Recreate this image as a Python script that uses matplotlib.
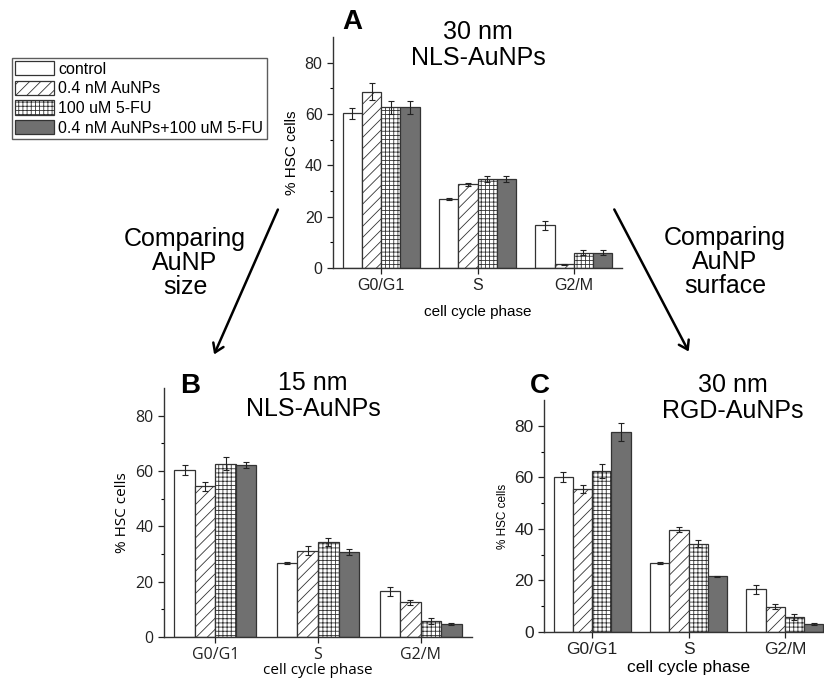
import numpy as np
import matplotlib
matplotlib.use('Agg')
import matplotlib.pyplot as plt
from matplotlib.patches import Patch

plt.rcParams['font.family'] = ['Liberation Sans', 'DejaVu Sans']
plt.rcParams['hatch.linewidth'] = 0.6

phases = ['G0/G1', 'S', 'G2/M']
groups = ['control', '0.4 nM AuNPs', '100 uM 5-FU', '0.4 nM AuNPs+100 uM 5-FU']

# panel A: 30 nm NLS-AuNPs
a_vals = [[60.2, 26.8, 16.6], [68.6, 32.6, 1.5], [62.6, 34.7, 6.0], [62.6, 34.6, 6.0]]
a_errs = [[2.0, 0.3, 1.8], [3.3, 0.6, 0.2], [2.6, 1.3, 0.9], [2.6, 1.2, 0.9]]
# panel B: 15 nm NLS-AuNPs
b_vals = [[60.2, 26.7, 16.6], [54.4, 31.2, 12.5], [62.6, 34.3, 5.7], [62.3, 30.7, 4.8]]
b_errs = [[1.8, 0.3, 1.6], [1.5, 1.6, 0.8], [2.4, 1.5, 1.0], [1.1, 1.2, 0.3]]
# panel C: 30 nm RGD-AuNPs
c_vals = [[60.1, 26.8, 16.5], [55.5, 39.7, 9.8], [62.6, 34.3, 5.9], [77.5, 21.7, 3.2]]
c_errs = [[1.9, 0.3, 1.9], [1.4, 0.9, 0.9], [2.7, 1.4, 1.2], [3.5, 0.2, 0.4]]

faces = ['white', 'white', 'white', '#707070']
hatches = [None, '///', '++++', None]
edge = '#333333'

W, H = 824, 679
fig = plt.figure(figsize=(W / 100, H / 100), dpi=100)


def px(x0, y0, x1, y1):
    # pixel box (left, top, right, bottom) -> figure fraction rect
    return [x0 / W, 1 - y1 / H, (x1 - x0) / W, (y1 - y0) / H]


def panel(rect, vals, errs, tick_fs, lab_fs, ylab_fs, fam, lpad):
    ax = fig.add_axes(rect)
    x = np.arange(len(phases))
    w = 0.2
    for i in range(4):
        ax.bar(x + (i - 1.5) * w, vals[i], w, yerr=errs[i], color=faces[i],
               hatch=hatches[i], edgecolor=edge, linewidth=0.9,
               error_kw=dict(ecolor='#222222', elinewidth=0.8, capsize=2.5, capthick=0.8))
    ax.set_xlim(-0.5, 2.5)
    ax.set_ylim(0, 90)
    ax.set_yticks([0, 20, 40, 60, 80])
    ax.set_yticks([10, 30, 50, 70], minor=True)
    ax.set_xticks(x)
    ax.set_xticklabels(phases, family=fam, fontsize=tick_fs)
    for t in ax.get_yticklabels():
        t.set_family(fam)
        t.set_fontsize(tick_fs)
    ax.tick_params(direction='out', length=4, width=0.9, colors='#222222')
    ax.tick_params(which='minor', length=2.5, width=0.8)
    ax.spines['top'].set_visible(False)
    ax.spines['right'].set_visible(False)
    for s in ['left', 'bottom']:
        ax.spines[s].set_linewidth(1.0)
        ax.spines[s].set_color('#333333')
    ax.set_ylabel('% HSC cells', family=fam, fontsize=ylab_fs)
    ax.set_xlabel('cell cycle phase', family=fam, fontsize=lab_fs, labelpad=lpad)
    ax.patch.set_alpha(0)
    return ax


axA = panel(px(333, 37, 622, 268), a_vals, a_errs, 11.5, 11, 11,
            ['Liberation Sans', 'DejaVu Sans'], 8)
axB = panel(px(164, 388, 472, 637), b_vals, b_errs, 11.5, 11, 11,
            ['Open Sans', 'DejaVu Sans'], 0)
axC = panel(px(544, 400, 833, 632), c_vals, c_errs, 12.5, 12.5, 8.5,
            ['Liberation Sans', 'DejaVu Sans'], 2)


def ftext(x, y, s, **kw):
    fig.text(x / W, 1 - y / H, s, ha='center', va='center', **kw)


ftext(352, 22, 'A', fontsize=20, fontweight='bold')
ftext(478, 45, '30 nm\nNLS-AuNPs', fontsize=18, linespacing=1.1)
ftext(190, 386, 'B', fontsize=20, fontweight='bold')
ftext(313, 396, '15 nm\nNLS-AuNPs', fontsize=18, linespacing=1.1)
ftext(540, 386, 'C', fontsize=20, fontweight='bold')
ftext(733, 398, '30 nm\nRGD-AuNPs', fontsize=18, linespacing=1.1)

ftext(185, 263, 'Comparing\nAuNP\nsize', fontsize=18, linespacing=1.0)
ftext(725, 262, 'Comparing\nAuNP\nsurface', fontsize=18, linespacing=1.0)

fig.patches.append(matplotlib.patches.FancyArrowPatch(
    (279 / W, 1 - 207 / H), (213 / W, 1 - 357 / H), transform=fig.transFigure,
    arrowstyle='->,head_length=6,head_width=4', color='black', linewidth=1.8))
fig.patches.append(matplotlib.patches.FancyArrowPatch(
    (613 / W, 1 - 207 / H), (690 / W, 1 - 354 / H), transform=fig.transFigure,
    arrowstyle='->,head_length=6,head_width=4', color='black', linewidth=1.8))

handles = [Patch(facecolor=faces[i], hatch=hatches[i], edgecolor=edge, linewidth=0.9)
           for i in range(4)]
leg = fig.legend(handles, groups, loc='upper left', bbox_to_anchor=(12 / W, 1 - 58 / H),
                 fontsize=11.5, frameon=True, fancybox=False, edgecolor='#333333',
                 borderaxespad=0, borderpad=0.2, handlelength=2.4, handleheight=1.0,
                 labelspacing=0.25, handletextpad=0.3)
leg.get_frame().set_linewidth(1.0)

fig.savefig('out.png', dpi=100)
